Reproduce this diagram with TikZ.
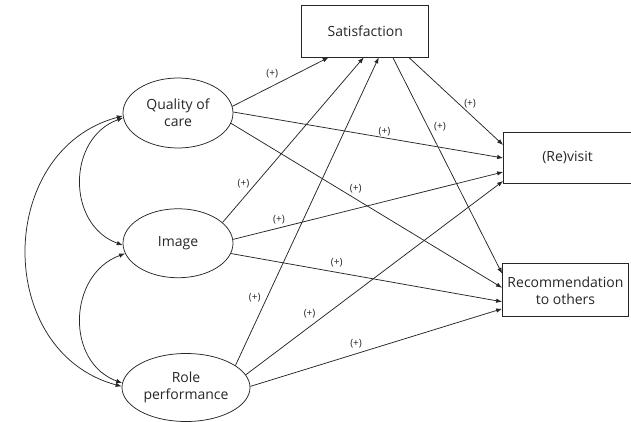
\documentclass[tikz,border=0pt]{standalone}
\usepackage{fontspec}
\setmainfont{Open Sans}
\usepackage{tikz}
\usetikzlibrary{positioning,shapes.geometric,arrows.meta}
\definecolor{PathGray}{HTML}{262626}

\begin{document}
\begin{tikzpicture}[>={Latex[length=6pt,width=4.5pt]},
                    every node/.style={align=center, text=PathGray, font=\fontsize{14}{17}\selectfont},
                    latent/.style={draw=PathGray, ellipse, inner sep=0pt,
                                   minimum width=110pt, minimum height=70pt},
                    observed/.style={draw=PathGray, rectangle, inner sep=0pt,
                                     minimum width=127pt, minimum height=52pt},
                    plus/.style={font=\fontsize{10}{11}\selectfont, inner sep=1pt},
                    every path/.style={color=PathGray, line width=0.75pt}]
\useasboundingbox (0,0) rectangle (631pt,-422pt);
\node[latent] (quality) at (178pt,-113pt) {Quality of\\ care};
\node[latent, below=60pt of quality, minimum height=69pt] (image) {Image};
\node[latent, below=75pt of image, xshift=8pt, minimum width=128pt, minimum height=68pt] (role) {Role\\ performance};
\node[observed, right=68pt of quality, yshift=82pt] (satisf) {Satisfaction};
\node[observed, right=74pt of satisf, yshift=-126.5pt, minimum width=128pt, minimum height=51pt] (revisit) {(Re)visit};
\node[observed, below=80pt of revisit, xshift=-2pt, minimum width=126pt, minimum height=53pt] (recomm) {Recommendation\\ to others};
% paths to satisfaction
\draw[->] (quality.7) -- node[plus, pos=0.51, above left=3pt] {(+)} ([xshift=-36.5pt]satisf.south);
\draw[->] (image.25) -- node[plus, pos=0.235, left=5pt] {(+)} ([xshift=-1.5pt]satisf.south);
\draw[->] (role.24) -- node[plus, pos=0.22, left=5pt] {(+)} ([xshift=13.5pt]satisf.south);
% satisfaction to outcomes
\draw[->] ([xshift=43.5pt]satisf.south) -- node[plus, pos=0.65, above=5pt] {(+)} ([yshift=12.5pt]revisit.west);
\draw[->] ([xshift=27.5pt]satisf.south) -- node[plus, pos=0.32, right=5pt] {(+)} ([yshift=16.5pt]recomm.west);
% direct paths
\draw[->] (quality.1) -- node[plus, pos=0.56, above] {(+)} ([yshift=-0.5pt]revisit.west);
\draw[->] (quality.-11) -- node[plus, pos=0.46, above=4pt] {(+)} ([yshift=2.5pt]recomm.west);
\draw[->] (image.4) -- node[plus, pos=0.17, above=2pt] {(+)} ([yshift=-14.5pt]revisit.west);
\draw[->] (image.-11) -- node[plus, pos=0.39, above=4pt] {(+)} ([yshift=-11.5pt]recomm.west);
\draw[->] (role.12) -- node[plus, pos=0.28, above left=1.5pt] {(+)} ([yshift=-23.5pt]revisit.west);
\draw[->] (role.1) -- node[plus, pos=0.42, above=4.5pt] {(+)} ([yshift=-18.5pt]recomm.west);
% correlations
\draw[<->] (quality.185) to[out=200, in=160, looseness=1.2] (image.182.6);
\draw[<->] (image.191) to[out=200, in=160, looseness=1.2] (role.176);
\draw[<->] (quality.183) to[out=195, in=165, looseness=1.25] (role.179);
\end{tikzpicture}
\end{document}
